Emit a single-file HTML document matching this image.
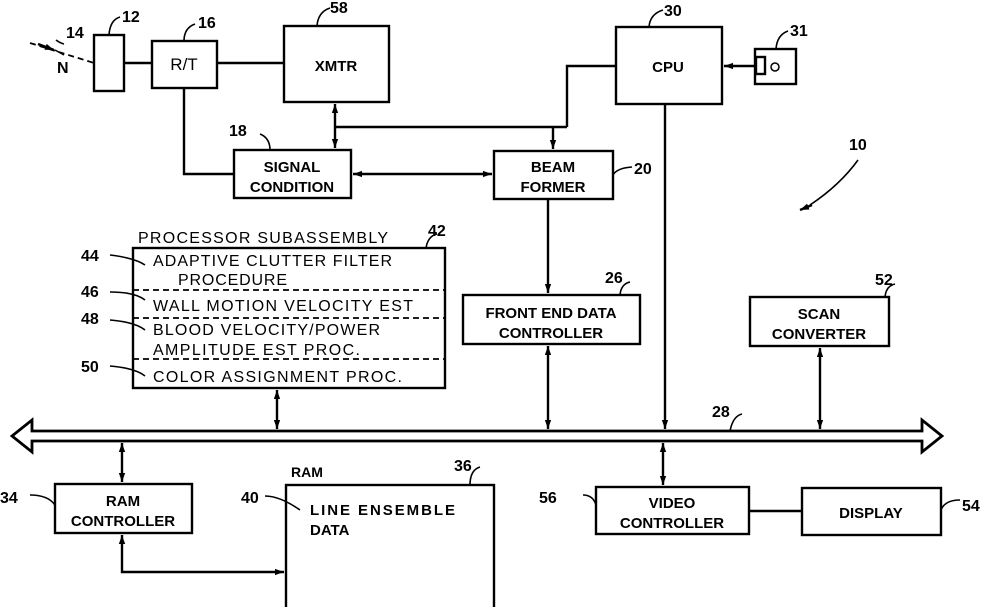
<!DOCTYPE html>
<html><head><meta charset="utf-8"><style>
html,body{margin:0;padding:0;background:#fff;}
svg text{font-family:"Liberation Sans",sans-serif;font-weight:bold;fill:#000;}
</style></head><body>
<svg width="996" height="607" viewBox="0 0 996 607" xmlns="http://www.w3.org/2000/svg">
<defs>
<marker id="a" viewBox="0 0 10 10" refX="10" refY="5" markerWidth="9" markerHeight="9" orient="auto-start-reverse" markerUnits="userSpaceOnUse"><path d="M0,1.5 L10,5 L0,8.5 z" fill="#000"/></marker>
</defs>
<g fill="none" stroke="#000" stroke-width="2.4">
<rect x="94" y="35" width="30" height="56"/>
<rect x="152" y="41" width="65" height="47"/>
<rect x="284" y="26" width="105" height="76"/>
<rect x="616" y="27" width="106" height="77"/>
<rect x="755" y="49" width="41" height="35"/>
<rect x="756" y="57" width="9" height="17"/>
<circle cx="775" cy="67" r="4" stroke-width="1.5"/>
<rect x="234" y="150" width="117" height="48"/>
<rect x="494" y="151" width="119" height="48"/>
<rect x="133" y="248" width="312" height="140"/>
<rect x="463" y="295" width="177" height="49"/>
<rect x="750" y="297" width="139" height="49"/>
<rect x="55" y="484" width="137" height="49"/>
<rect x="286" y="485" width="208" height="125"/>
<rect x="596" y="487" width="153" height="47"/>
<rect x="802" y="488" width="139" height="47"/>
<g stroke-dasharray="6,4" stroke-width="1.8">
<line x1="133" y1="290" x2="445" y2="290"/>
<line x1="133" y1="318" x2="445" y2="318"/>
<line x1="133" y1="359" x2="445" y2="359"/>
<line x1="30" y1="43" x2="94" y2="63"/>
</g>
<path d="M32,431 L922,431 L922,420 L942,436 L922,452 L922,441 L32,441 L32,452 L12,436 L32,420 Z" stroke-width="2.8"/>
<line x1="124" y1="63" x2="152" y2="63"/>
<line x1="217" y1="63" x2="284" y2="63"/>
<polyline points="184,88 184,174 234,174"/>
<line x1="335" y1="104" x2="335" y2="148" marker-start="url(#a)" marker-end="url(#a)"/>
<line x1="335" y1="127" x2="567" y2="127"/>
<polyline points="616,66 567,66 567,127"/>
<line x1="553" y1="127" x2="553" y2="149" marker-end="url(#a)"/>
<line x1="353" y1="174" x2="492" y2="174" marker-start="url(#a)" marker-end="url(#a)"/>
<line x1="755" y1="66" x2="724" y2="66" marker-end="url(#a)"/>
<line x1="548" y1="199" x2="548" y2="293" marker-end="url(#a)"/>
<line x1="548" y1="346" x2="548" y2="429" marker-start="url(#a)" marker-end="url(#a)"/>
<line x1="665" y1="104" x2="665" y2="429" marker-end="url(#a)"/>
<line x1="820" y1="348" x2="820" y2="429" marker-start="url(#a)" marker-end="url(#a)"/>
<line x1="277" y1="390" x2="277" y2="429" marker-start="url(#a)" marker-end="url(#a)"/>
<line x1="122" y1="443" x2="122" y2="482" marker-start="url(#a)" marker-end="url(#a)"/>
<line x1="663" y1="443" x2="663" y2="485" marker-start="url(#a)" marker-end="url(#a)"/>
<polyline points="122,535 122,572 284,572" marker-start="url(#a)" marker-end="url(#a)"/>
<line x1="749" y1="511" x2="802" y2="511"/>
<g stroke-width="1.6">
<path d="M109,35 Q110,20 120,17"/>
<path d="M184,41 Q184,28 195,24"/>
<path d="M317,26 Q318,12 330,8"/>
<path d="M649,27 Q650,14 663,10"/>
<path d="M776,49 Q777,35 788,31"/>
<path d="M270,150 Q270,138 260,134"/>
<path d="M613,175 Q617,168 632,167"/>
<path d="M426,248 Q428,236 437,234"/>
<path d="M110,255 Q135,258 145,265"/>
<path d="M110,292 Q135,292 145,300"/>
<path d="M110,320 Q135,322 145,330"/>
<path d="M110,366 Q135,368 145,376"/>
<path d="M620,295 Q621,284 630,282"/>
<path d="M885,297 Q886,286 895,284"/>
<path d="M730,431 Q733,416 742,414"/>
<path d="M470,485 Q470,470 480,467"/>
<path d="M30,495 Q48,495 55,505"/>
<path d="M265,496 Q280,496 300,510"/>
<path d="M583,495 Q593,495 596,505"/>
<path d="M941,510 Q945,500 960,500"/>
<path d="M56,40 Q60,43 64,44"/>
<path d="M858,160 Q840,185 810,205"/>
</g>
<line x1="38" y1="44" x2="54" y2="50" marker-end="url(#a)"/>
<line x1="812" y1="205" x2="800" y2="210" marker-end="url(#a)"/>
</g>
<line x1="55" y1="50" x2="64" y2="55" stroke="#000" stroke-width="1.5"/>
<g font-size="15">
<text x="184" y="70" text-anchor="middle" font-size="17" style="font-weight:normal">R/T</text>
<text x="336" y="71" text-anchor="middle">XMTR</text>
<text x="668" y="72" text-anchor="middle">CPU</text>
<text x="292" y="172" text-anchor="middle">SIGNAL</text>
<text x="292" y="192" text-anchor="middle">CONDITION</text>
<text x="553" y="172" text-anchor="middle">BEAM</text>
<text x="553" y="192" text-anchor="middle">FORMER</text>
<text x="551" y="318" text-anchor="middle">FRONT END DATA</text>
<text x="551" y="338" text-anchor="middle">CONTROLLER</text>
<text x="819" y="319" text-anchor="middle">SCAN</text>
<text x="819" y="339" text-anchor="middle">CONVERTER</text>
<text x="123" y="506" text-anchor="middle">RAM</text>
<text x="123" y="526" text-anchor="middle">CONTROLLER</text>
<text x="672" y="508" text-anchor="middle">VIDEO</text>
<text x="672" y="528" text-anchor="middle">CONTROLLER</text>
<text x="871" y="518" text-anchor="middle">DISPLAY</text>
<text x="310" y="515" textLength="145">LINE  ENSEMBLE</text>
<text x="310" y="535">DATA</text>
<text x="291" y="477" font-size="14">RAM</text>
</g>
<g font-size="16">
<text x="138" y="243" textLength="250" style="font-weight:normal">PROCESSOR  SUBASSEMBLY</text>
<text x="153" y="266" textLength="239" style="font-weight:normal">ADAPTIVE  CLUTTER  FILTER</text>
<text x="178" y="285" textLength="109" style="font-weight:normal">PROCEDURE</text>
<text x="153" y="311" textLength="260" style="font-weight:normal">WALL  MOTION  VELOCITY  EST</text>
<text x="153" y="335" textLength="227" style="font-weight:normal">BLOOD  VELOCITY/POWER</text>
<text x="153" y="355" textLength="207" style="font-weight:normal">AMPLITUDE  EST  PROC.</text>
<text x="153" y="382" textLength="249" style="font-weight:normal">COLOR  ASSIGNMENT  PROC.</text>
</g>
<g font-size="16">
<text x="122" y="22">12</text>
<text x="198" y="28">16</text>
<text x="330" y="13">58</text>
<text x="664" y="16">30</text>
<text x="790" y="36">31</text>
<text x="66" y="38">14</text>
<text x="57" y="73">N</text>
<text x="229" y="136">18</text>
<text x="634" y="174">20</text>
<text x="849" y="150">10</text>
<text x="428" y="236">42</text>
<text x="81" y="261">44</text>
<text x="81" y="297">46</text>
<text x="81" y="324">48</text>
<text x="81" y="372">50</text>
<text x="605" y="283">26</text>
<text x="875" y="285">52</text>
<text x="712" y="417">28</text>
<text x="454" y="471">36</text>
<text x="0" y="503">34</text>
<text x="241" y="503">40</text>
<text x="539" y="503">56</text>
<text x="962" y="511">54</text>
</g>
</svg>
</body></html>
